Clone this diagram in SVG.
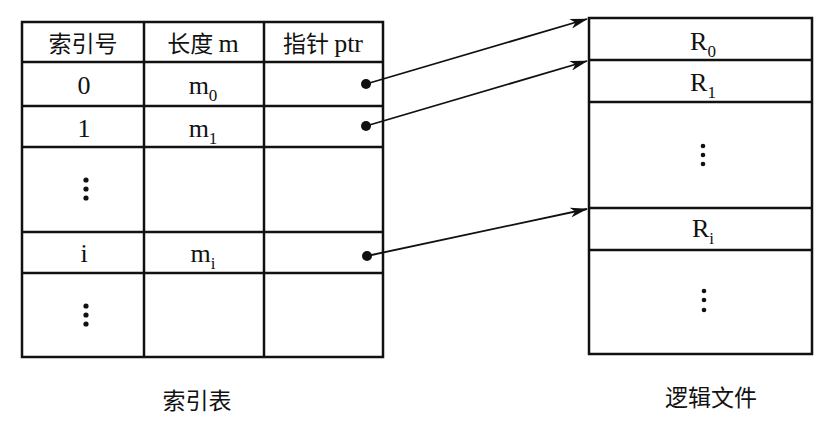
<svg xmlns="http://www.w3.org/2000/svg" width="834" height="434" viewBox="0 0 834 434">
<style>
.ln{stroke:#111;stroke-width:2.5;fill:none}
.t{font-family:"Liberation Serif","Noto Sans CJK SC",serif;font-size:26px;fill:#111;text-anchor:middle}
.c{font-family:"Noto Sans CJK SC",sans-serif;font-size:23px;fill:#111;text-anchor:middle}
.s{font-size:17px}
.dot{fill:#111}
.ar{stroke:#111;stroke-width:1.8;fill:none}
</style>
<defs>
<marker id="ah" markerWidth="18" markerHeight="10" refX="17" refY="5" orient="auto" markerUnits="userSpaceOnUse">
<path d="M0,0 L18,5 L0,10 L5,5 Z" fill="#111"/>
</marker>
</defs>
<rect width="834" height="434" fill="#fff"/>
<g id="index-table">
<rect class="ln" x="22" y="22" width="361" height="335"/>
<line class="ln" x1="144" y1="22" x2="144" y2="357"/>
<line class="ln" x1="264" y1="22" x2="264" y2="357"/>
<line class="ln" x1="22" y1="62" x2="383" y2="62"/>
<line class="ln" x1="22" y1="106" x2="383" y2="106"/>
<line class="ln" x1="22" y1="147" x2="383" y2="147"/>
<line class="ln" x1="22" y1="232" x2="383" y2="232"/>
<line class="ln" x1="22" y1="273" x2="383" y2="273"/>
<text class="c" x="83" y="52">索引号</text>
<text class="c" x="203" y="52">长度 <tspan class="t" font-size="26">m</tspan></text>
<text class="c" x="323" y="52">指针 <tspan class="t" font-size="26">ptr</tspan></text>
<text class="t" x="84" y="94">0</text>
<text class="t" x="203" y="94">m<tspan class="s" dy="7">0</tspan></text>
<text class="t" x="84" y="137">1</text>
<text class="t" x="203" y="137">m<tspan class="s" dy="7">1</tspan></text>
<text class="t" x="84" y="262">i</text>
<text class="t" x="203" y="262">m<tspan class="s" dy="7">i</tspan></text>
<circle class="dot" cx="86" cy="180" r="2.6"/><circle class="dot" cx="86" cy="189" r="2.6"/><circle class="dot" cx="86" cy="198" r="2.6"/>
<circle class="dot" cx="86" cy="306" r="2.6"/><circle class="dot" cx="86" cy="315" r="2.6"/><circle class="dot" cx="86" cy="324" r="2.6"/>
<circle class="dot" cx="366" cy="84" r="5"/>
<circle class="dot" cx="366" cy="126" r="5"/>
<circle class="dot" cx="367" cy="256" r="5"/>
<text class="c" x="197" y="409">索引表</text>
</g>
<g id="logical-file">
<rect class="ln" x="589" y="18" width="223" height="336"/>
<line class="ln" x1="589" y1="60" x2="812" y2="60"/>
<line class="ln" x1="589" y1="102" x2="812" y2="102"/>
<line class="ln" x1="589" y1="208" x2="812" y2="208"/>
<line class="ln" x1="589" y1="250" x2="812" y2="250"/>
<text class="t" x="703" y="50">R<tspan class="s" dy="7">0</tspan></text>
<text class="t" x="703" y="91">R<tspan class="s" dy="7">1</tspan></text>
<text class="t" x="703" y="237">R<tspan class="s" dy="7">i</tspan></text>
<circle class="dot" cx="703" cy="146" r="2.3"/><circle class="dot" cx="703" cy="155" r="2.3"/><circle class="dot" cx="703" cy="164" r="2.3"/>
<circle class="dot" cx="704" cy="291" r="2.3"/><circle class="dot" cx="704" cy="300" r="2.3"/><circle class="dot" cx="704" cy="310" r="2.3"/>
<text class="c" x="711" y="406">逻辑文件</text>
</g>
<g id="connectors">
<line class="ar" x1="366" y1="84" x2="587" y2="19" marker-end="url(#ah)"/>
<line class="ar" x1="366" y1="126" x2="587" y2="61" marker-end="url(#ah)"/>
<line class="ar" x1="367" y1="256" x2="587" y2="209" marker-end="url(#ah)"/>
</g>
</svg>
